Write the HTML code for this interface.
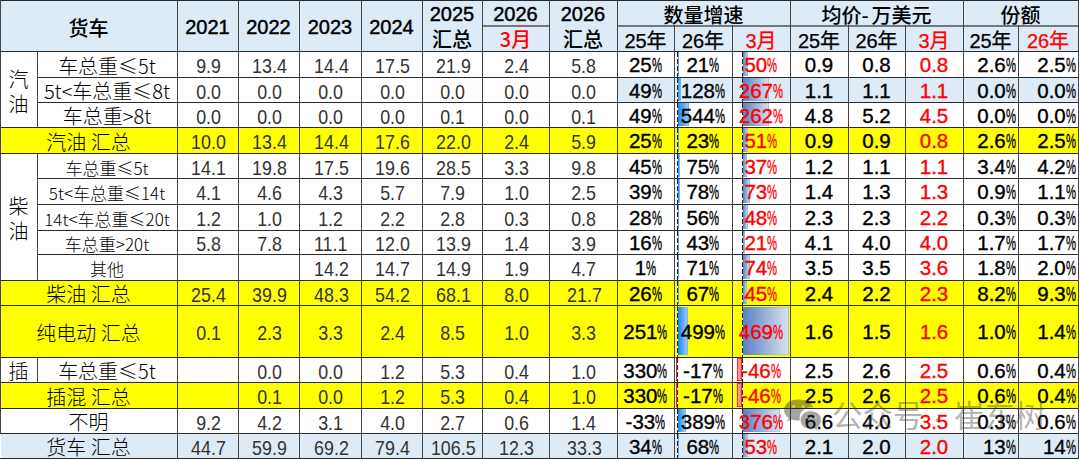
<!DOCTYPE html>
<html><head><meta charset="utf-8"><style>
html,body{margin:0;padding:0;background:#fff;}
#w{position:relative;width:1080px;height:460px;overflow:hidden;background:#fff;}
.r{position:absolute;}
.t{position:absolute;display:flex;align-items:center;justify-content:center;white-space:nowrap;font-family:"Liberation Sans","Noto Sans CJK SC",sans-serif;font-size:20px;color:#000;line-height:1;box-sizing:border-box;padding-top:3px;}
.t span{display:inline-block;}
.t i{font-style:normal;display:inline-block;transform:scaleX(.55);margin:0 -4px;}
.hb{font-weight:normal;-webkit-text-stroke:0.45px currentColor;}
.hm{font-weight:normal;}
.red{color:#FF0000;}
.cat{line-height:1.25;text-align:center;font-family:"Noto Sans CJK SC",sans-serif;font-weight:300;}
.lab{font-family:"Noto Sans CJK SC",sans-serif;font-weight:300;}
.lab2{font-family:"Noto Sans CJK SC",sans-serif;font-size:17px;font-weight:300;}
.hc{font-family:"Noto Sans CJK SC",sans-serif;font-weight:500;}
.sp{display:inline-block;width:3px;}
.h2{padding-top:5px;-webkit-text-stroke:0.25px currentColor;}
.num{color:#333;font-size:21px;padding-left:2px;}
.num span{transform:scaleX(.85);}
.gr,.pr,.sh,.g3{-webkit-text-stroke:0.35px currentColor;font-size:20.5px;}
.sh{justify-content:flex-end;padding-right:2px;}
.bb{background:linear-gradient(to right,#1A88EE,#A6CFF5);box-shadow:inset -1px 0 0 rgba(90,160,230,.45);}
.gb{background:linear-gradient(to right,#5A80C2,#D9E3F2);box-shadow:inset -1px 0 0 rgba(110,145,205,.4),inset 0 1px 0 rgba(110,145,205,.25),inset 0 -1px 0 rgba(110,145,205,.25);}
.nb{background:linear-gradient(to right,#FFB0B0,#FF7070);box-shadow:inset 0 0 0 1px #F03030;}
.ax{width:1px;background:repeating-linear-gradient(to bottom,#222 0 5px,#f4f4f4 5px 7px);}
.wm{position:absolute;left:0;top:0;width:1080px;height:460px;pointer-events:none;}
.wmt{position:absolute;top:399px;font-family:"Noto Sans CJK SC",sans-serif;font-weight:400;font-size:30.5px;line-height:1;color:rgba(60,60,60,.4);white-space:nowrap;}
.wmd{font-size:17px;top:411px;}
</style></head><body><div id="w">
<div class="r" style="left:0px;top:0px;width:1079px;height:51px;background:#DDEBF7;"></div>
<div class="r" style="left:0px;top:280px;width:1079px;height:25px;background:#FFFF00;"></div>
<div class="r" style="left:0px;top:305px;width:1079px;height:52px;background:#FFFF00;"></div>
<div class="r" style="left:0px;top:127px;width:1079px;height:26px;background:#FFFF00;"></div>
<div class="r" style="left:0px;top:382px;width:1079px;height:26px;background:#FFFF00;"></div>
<div class="r" style="left:1px;top:433px;width:1078px;height:25px;background:#DDEBF7;"></div>
<div class="r" style="left:617px;top:77px;width:462px;height:25px;background:#DDEBF7;"></div>
<div class="r bb" style="left:678px;top:52px;width:1px;height:24px"></div>
<div class="r gb" style="left:743px;top:52px;width:5px;height:24px"></div>
<div class="r ax" style="left:677px;top:52px;height:25px"></div>
<div class="r ax" style="left:742px;top:52px;height:25px"></div>
<div class="r bb" style="left:678px;top:78px;width:3px;height:23px"></div>
<div class="r gb" style="left:743px;top:78px;width:26px;height:23px"></div>
<div class="r ax" style="left:677px;top:78px;height:24px"></div>
<div class="r ax" style="left:742px;top:78px;height:24px"></div>
<div class="r bb" style="left:678px;top:103px;width:11px;height:23px"></div>
<div class="r gb" style="left:743px;top:103px;width:26px;height:23px"></div>
<div class="r ax" style="left:677px;top:103px;height:24px"></div>
<div class="r ax" style="left:742px;top:103px;height:24px"></div>
<div class="r bb" style="left:678px;top:128px;width:1px;height:24px"></div>
<div class="r gb" style="left:743px;top:128px;width:5px;height:24px"></div>
<div class="r ax" style="left:677px;top:128px;height:25px"></div>
<div class="r ax" style="left:742px;top:128px;height:25px"></div>
<div class="r bb" style="left:678px;top:154px;width:2px;height:23px"></div>
<div class="r gb" style="left:743px;top:154px;width:4px;height:23px"></div>
<div class="r ax" style="left:677px;top:154px;height:24px"></div>
<div class="r ax" style="left:742px;top:154px;height:24px"></div>
<div class="r bb" style="left:678px;top:179px;width:2px;height:24px"></div>
<div class="r gb" style="left:743px;top:179px;width:7px;height:24px"></div>
<div class="r ax" style="left:677px;top:179px;height:25px"></div>
<div class="r ax" style="left:742px;top:179px;height:25px"></div>
<div class="r bb" style="left:678px;top:205px;width:1px;height:24px"></div>
<div class="r gb" style="left:743px;top:205px;width:5px;height:24px"></div>
<div class="r ax" style="left:677px;top:205px;height:25px"></div>
<div class="r ax" style="left:742px;top:205px;height:25px"></div>
<div class="r bb" style="left:678px;top:231px;width:1px;height:22px"></div>
<div class="r gb" style="left:743px;top:231px;width:2px;height:22px"></div>
<div class="r ax" style="left:677px;top:231px;height:23px"></div>
<div class="r ax" style="left:742px;top:231px;height:23px"></div>
<div class="r bb" style="left:678px;top:255px;width:1px;height:24px"></div>
<div class="r gb" style="left:743px;top:255px;width:7px;height:24px"></div>
<div class="r ax" style="left:677px;top:255px;height:25px"></div>
<div class="r ax" style="left:742px;top:255px;height:25px"></div>
<div class="r bb" style="left:678px;top:281px;width:1px;height:23px"></div>
<div class="r gb" style="left:743px;top:281px;width:4px;height:23px"></div>
<div class="r ax" style="left:677px;top:281px;height:24px"></div>
<div class="r ax" style="left:742px;top:281px;height:24px"></div>
<div class="r bb" style="left:678px;top:307px;width:10px;height:48px"></div>
<div class="r gb" style="left:743px;top:307px;width:46px;height:48px"></div>
<div class="r ax" style="left:677px;top:306px;height:51px"></div>
<div class="r ax" style="left:742px;top:306px;height:51px"></div>
<div class="r nb" style="left:676px;top:358px;width:1px;height:23px"></div>
<div class="r nb" style="left:737px;top:358px;width:5px;height:23px"></div>
<div class="r ax" style="left:677px;top:358px;height:24px"></div>
<div class="r ax" style="left:742px;top:358px;height:24px"></div>
<div class="r nb" style="left:676px;top:383px;width:1px;height:24px"></div>
<div class="r nb" style="left:737px;top:383px;width:5px;height:24px"></div>
<div class="r ax" style="left:677px;top:383px;height:25px"></div>
<div class="r ax" style="left:742px;top:383px;height:25px"></div>
<div class="r bb" style="left:678px;top:409px;width:8px;height:23px"></div>
<div class="r gb" style="left:743px;top:409px;width:37px;height:23px"></div>
<div class="r ax" style="left:677px;top:409px;height:24px"></div>
<div class="r ax" style="left:742px;top:409px;height:24px"></div>
<div class="r bb" style="left:678px;top:434px;width:1px;height:23px"></div>
<div class="r gb" style="left:743px;top:434px;width:5px;height:23px"></div>
<div class="r ax" style="left:677px;top:434px;height:24px"></div>
<div class="r ax" style="left:742px;top:434px;height:24px"></div>
<div class="r" style="left:0px;top:0px;width:1079px;height:1px;background:#2a2a2a"></div>
<div class="r" style="left:482px;top:25px;width:68px;height:1px;background:#737880"></div>
<div class="r" style="left:617px;top:25px;width:462px;height:1px;background:#737880"></div>
<div class="r" style="left:482px;top:26px;width:68px;height:1px;background:#737880"></div>
<div class="r" style="left:617px;top:26px;width:462px;height:1px;background:#737880"></div>
<div class="r" style="left:0px;top:51px;width:1079px;height:1px;background:#2a2a2a"></div>
<div class="r" style="left:37px;top:77px;width:1042px;height:1px;background:#2a2a2a"></div>
<div class="r" style="left:37px;top:102px;width:1042px;height:1px;background:#2a2a2a"></div>
<div class="r" style="left:0px;top:127px;width:1079px;height:1px;background:#2a2a2a"></div>
<div class="r" style="left:0px;top:153px;width:1079px;height:1px;background:#2a2a2a"></div>
<div class="r" style="left:37px;top:178px;width:1042px;height:1px;background:#2a2a2a"></div>
<div class="r" style="left:37px;top:204px;width:1042px;height:1px;background:#2a2a2a"></div>
<div class="r" style="left:37px;top:230px;width:1042px;height:1px;background:#2a2a2a"></div>
<div class="r" style="left:37px;top:254px;width:1042px;height:1px;background:#2a2a2a"></div>
<div class="r" style="left:0px;top:280px;width:1079px;height:1px;background:#2a2a2a"></div>
<div class="r" style="left:0px;top:305px;width:1079px;height:1px;background:#2a2a2a"></div>
<div class="r" style="left:0px;top:357px;width:1079px;height:1px;background:#2a2a2a"></div>
<div class="r" style="left:0px;top:382px;width:1079px;height:1px;background:#2a2a2a"></div>
<div class="r" style="left:0px;top:408px;width:1079px;height:1px;background:#2a2a2a"></div>
<div class="r" style="left:0px;top:433px;width:1079px;height:1px;background:#2a2a2a"></div>
<div class="r" style="left:0px;top:458px;width:1079px;height:1px;background:#2a2a2a"></div>
<div class="r" style="left:0px;top:0px;width:1px;height:434px;background:#454545"></div>
<div class="r" style="left:37px;top:51px;width:1px;height:77px;background:#454545"></div>
<div class="r" style="left:37px;top:153px;width:1px;height:128px;background:#454545"></div>
<div class="r" style="left:37px;top:357px;width:1px;height:26px;background:#454545"></div>
<div class="r" style="left:177px;top:0px;width:1px;height:459px;background:#454545"></div>
<div class="r" style="left:238px;top:0px;width:1px;height:459px;background:#454545"></div>
<div class="r" style="left:299px;top:0px;width:1px;height:459px;background:#454545"></div>
<div class="r" style="left:361px;top:0px;width:1px;height:459px;background:#454545"></div>
<div class="r" style="left:422px;top:0px;width:1px;height:459px;background:#454545"></div>
<div class="r" style="left:482px;top:0px;width:1px;height:459px;background:#454545"></div>
<div class="r" style="left:549px;top:0px;width:1px;height:459px;background:#454545"></div>
<div class="r" style="left:617px;top:0px;width:1px;height:459px;background:#454545"></div>
<div class="r" style="left:674px;top:25px;width:1px;height:434px;background:#454545"></div>
<div class="r" style="left:732px;top:25px;width:1px;height:434px;background:#454545"></div>
<div class="r" style="left:790px;top:0px;width:1px;height:459px;background:#454545"></div>
<div class="r" style="left:848px;top:25px;width:1px;height:434px;background:#454545"></div>
<div class="r" style="left:905px;top:25px;width:1px;height:434px;background:#454545"></div>
<div class="r" style="left:963px;top:0px;width:1px;height:459px;background:#454545"></div>
<div class="r" style="left:1018px;top:25px;width:1px;height:434px;background:#454545"></div>
<div class="r" style="left:1078px;top:0px;width:1px;height:459px;background:#454545"></div>
<div class="t hc" style="left:0px;top:0px;width:177px;height:51px;;padding-top:4px"><span>货车</span></div>
<div class="t hb" style="left:177px;top:0px;width:61px;height:51px;"><span>2021</span></div>
<div class="t hb" style="left:238px;top:0px;width:61px;height:51px;"><span>2022</span></div>
<div class="t hb" style="left:299px;top:0px;width:62px;height:51px;"><span>2023</span></div>
<div class="t hb" style="left:361px;top:0px;width:61px;height:51px;"><span>2024</span></div>
<div class="t hb" style="left:422px;top:0px;width:60px;height:26px;;padding-top:1px"><span>2025</span></div>
<div class="t hc" style="left:422px;top:26px;width:60px;height:25px;;padding-top:1px"><span>汇总</span></div>
<div class="t hb" style="left:482px;top:0px;width:67px;height:26px;;padding-top:1px"><span>2026</span></div>
<div class="t hc red" style="left:482px;top:26px;width:67px;height:25px;;padding-top:1px"><span>3月</span></div>
<div class="t hb" style="left:549px;top:0px;width:68px;height:26px;;padding-top:1px"><span>2026</span></div>
<div class="t hc" style="left:549px;top:26px;width:68px;height:25px;;padding-top:1px"><span>汇总</span></div>
<div class="t hc" style="left:617px;top:0px;width:173px;height:26px;"><span>数量增速</span></div>
<div class="t hc" style="left:790px;top:0px;width:173px;height:26px;"><span>均价-<b class="sp"></b>万美元</span></div>
<div class="t hc" style="left:963px;top:0px;width:115px;height:26px;"><span>份额</span></div>
<div class="t hm h2 " style="left:617px;top:26px;width:57px;height:25px;"><span>25年</span></div>
<div class="t hm h2 " style="left:674px;top:26px;width:58px;height:25px;"><span>26年</span></div>
<div class="t hm h2 red" style="left:732px;top:26px;width:58px;height:25px;"><span>3月</span></div>
<div class="t hm h2 " style="left:790px;top:26px;width:58px;height:25px;"><span>25年</span></div>
<div class="t hm h2 " style="left:848px;top:26px;width:57px;height:25px;"><span>26年</span></div>
<div class="t hm h2 red" style="left:905px;top:26px;width:58px;height:25px;"><span>3月</span></div>
<div class="t hm h2 " style="left:963px;top:26px;width:55px;height:25px;"><span>25年</span></div>
<div class="t hm h2 red" style="left:1018px;top:26px;width:60px;height:25px;"><span>26年</span></div>
<div class="t cat" style="left:0px;top:51px;width:37px;height:76px;"><span>汽<br>油</span></div>
<div class="t cat" style="left:0px;top:153px;width:37px;height:127px;"><span>柴<br>油</span></div>
<div class="t cat" style="left:0px;top:357px;width:37px;height:25px;;padding-top:1px"><span>插</span></div>
<div class="t lab" style="left:37px;top:51px;width:140px;height:26px;"><span>车总重≤5t</span></div>
<div class="t num" style="left:177px;top:51px;width:61px;height:26px;"><span>9.9</span></div>
<div class="t num" style="left:238px;top:51px;width:61px;height:26px;"><span>13.4</span></div>
<div class="t num" style="left:299px;top:51px;width:62px;height:26px;"><span>14.4</span></div>
<div class="t num" style="left:361px;top:51px;width:61px;height:26px;"><span>17.5</span></div>
<div class="t num" style="left:422px;top:51px;width:60px;height:26px;"><span>21.9</span></div>
<div class="t num" style="left:482px;top:51px;width:67px;height:26px;"><span>2.4</span></div>
<div class="t num" style="left:549px;top:51px;width:68px;height:26px;"><span>5.8</span></div>
<div class="t gr" style="left:617px;top:51px;width:57px;height:26px;"><span>25<i>%</i></span></div>
<div class="t gr" style="left:674px;top:51px;width:58px;height:26px;"><span>21<i>%</i></span></div>
<div class="t g3 red" style="left:732px;top:51px;width:58px;height:26px;"><span>50<i>%</i></span></div>
<div class="t pr" style="left:790px;top:51px;width:58px;height:26px;"><span>0.9</span></div>
<div class="t pr" style="left:848px;top:51px;width:57px;height:26px;"><span>0.8</span></div>
<div class="t pr red" style="left:905px;top:51px;width:58px;height:26px;"><span>0.8</span></div>
<div class="t sh" style="left:963px;top:51px;width:55px;height:26px;"><span>2.6<i>%</i></span></div>
<div class="t sh" style="left:1018px;top:51px;width:60px;height:26px;"><span>2.5<i>%</i></span></div>
<div class="t lab" style="left:37px;top:77px;width:140px;height:25px;"><span>5t<车总重≤8t</span></div>
<div class="t num" style="left:177px;top:77px;width:61px;height:25px;"><span>0.0</span></div>
<div class="t num" style="left:238px;top:77px;width:61px;height:25px;"><span>0.0</span></div>
<div class="t num" style="left:299px;top:77px;width:62px;height:25px;"><span>0.0</span></div>
<div class="t num" style="left:361px;top:77px;width:61px;height:25px;"><span>0.0</span></div>
<div class="t num" style="left:422px;top:77px;width:60px;height:25px;"><span>0.0</span></div>
<div class="t num" style="left:482px;top:77px;width:67px;height:25px;"><span>0.0</span></div>
<div class="t num" style="left:549px;top:77px;width:68px;height:25px;"><span>0.0</span></div>
<div class="t gr" style="left:617px;top:77px;width:57px;height:25px;"><span>49<i>%</i></span></div>
<div class="t gr" style="left:674px;top:77px;width:58px;height:25px;"><span>128<i>%</i></span></div>
<div class="t g3 red" style="left:732px;top:77px;width:58px;height:25px;"><span>267<i>%</i></span></div>
<div class="t pr" style="left:790px;top:77px;width:58px;height:25px;"><span>1.1</span></div>
<div class="t pr" style="left:848px;top:77px;width:57px;height:25px;"><span>1.1</span></div>
<div class="t pr red" style="left:905px;top:77px;width:58px;height:25px;"><span>1.1</span></div>
<div class="t sh" style="left:963px;top:77px;width:55px;height:25px;"><span>0.0<i>%</i></span></div>
<div class="t sh" style="left:1018px;top:77px;width:60px;height:25px;"><span>0.0<i>%</i></span></div>
<div class="t lab" style="left:37px;top:102px;width:140px;height:25px;"><span>车总重>8t</span></div>
<div class="t num" style="left:177px;top:102px;width:61px;height:25px;"><span>0.0</span></div>
<div class="t num" style="left:238px;top:102px;width:61px;height:25px;"><span>0.0</span></div>
<div class="t num" style="left:299px;top:102px;width:62px;height:25px;"><span>0.0</span></div>
<div class="t num" style="left:361px;top:102px;width:61px;height:25px;"><span>0.0</span></div>
<div class="t num" style="left:422px;top:102px;width:60px;height:25px;"><span>0.1</span></div>
<div class="t num" style="left:482px;top:102px;width:67px;height:25px;"><span>0.0</span></div>
<div class="t num" style="left:549px;top:102px;width:68px;height:25px;"><span>0.1</span></div>
<div class="t gr" style="left:617px;top:102px;width:57px;height:25px;"><span>49<i>%</i></span></div>
<div class="t gr" style="left:674px;top:102px;width:58px;height:25px;"><span>544<i>%</i></span></div>
<div class="t g3 red" style="left:732px;top:102px;width:58px;height:25px;"><span>262<i>%</i></span></div>
<div class="t pr" style="left:790px;top:102px;width:58px;height:25px;"><span>4.8</span></div>
<div class="t pr" style="left:848px;top:102px;width:57px;height:25px;"><span>5.2</span></div>
<div class="t pr red" style="left:905px;top:102px;width:58px;height:25px;"><span>4.5</span></div>
<div class="t sh" style="left:963px;top:102px;width:55px;height:25px;"><span>0.0<i>%</i></span></div>
<div class="t sh" style="left:1018px;top:102px;width:60px;height:25px;"><span>0.0<i>%</i></span></div>
<div class="t lab" style="left:0px;top:127px;width:177px;height:26px;"><span>汽油 汇总</span></div>
<div class="t num" style="left:177px;top:127px;width:61px;height:26px;"><span>10.0</span></div>
<div class="t num" style="left:238px;top:127px;width:61px;height:26px;"><span>13.4</span></div>
<div class="t num" style="left:299px;top:127px;width:62px;height:26px;"><span>14.4</span></div>
<div class="t num" style="left:361px;top:127px;width:61px;height:26px;"><span>17.6</span></div>
<div class="t num" style="left:422px;top:127px;width:60px;height:26px;"><span>22.0</span></div>
<div class="t num" style="left:482px;top:127px;width:67px;height:26px;"><span>2.4</span></div>
<div class="t num" style="left:549px;top:127px;width:68px;height:26px;"><span>5.9</span></div>
<div class="t gr" style="left:617px;top:127px;width:57px;height:26px;"><span>25<i>%</i></span></div>
<div class="t gr" style="left:674px;top:127px;width:58px;height:26px;"><span>23<i>%</i></span></div>
<div class="t g3 red" style="left:732px;top:127px;width:58px;height:26px;"><span>51<i>%</i></span></div>
<div class="t pr" style="left:790px;top:127px;width:58px;height:26px;"><span>0.9</span></div>
<div class="t pr" style="left:848px;top:127px;width:57px;height:26px;"><span>0.9</span></div>
<div class="t pr red" style="left:905px;top:127px;width:58px;height:26px;"><span>0.8</span></div>
<div class="t sh" style="left:963px;top:127px;width:55px;height:26px;"><span>2.6<i>%</i></span></div>
<div class="t sh" style="left:1018px;top:127px;width:60px;height:26px;"><span>2.5<i>%</i></span></div>
<div class="t lab2" style="left:37px;top:153px;width:140px;height:25px;"><span>车总重≤5t</span></div>
<div class="t num" style="left:177px;top:153px;width:61px;height:25px;"><span>14.1</span></div>
<div class="t num" style="left:238px;top:153px;width:61px;height:25px;"><span>19.8</span></div>
<div class="t num" style="left:299px;top:153px;width:62px;height:25px;"><span>17.5</span></div>
<div class="t num" style="left:361px;top:153px;width:61px;height:25px;"><span>19.6</span></div>
<div class="t num" style="left:422px;top:153px;width:60px;height:25px;"><span>28.5</span></div>
<div class="t num" style="left:482px;top:153px;width:67px;height:25px;"><span>3.3</span></div>
<div class="t num" style="left:549px;top:153px;width:68px;height:25px;"><span>9.8</span></div>
<div class="t gr" style="left:617px;top:153px;width:57px;height:25px;"><span>45<i>%</i></span></div>
<div class="t gr" style="left:674px;top:153px;width:58px;height:25px;"><span>75<i>%</i></span></div>
<div class="t g3 red" style="left:732px;top:153px;width:58px;height:25px;"><span>37<i>%</i></span></div>
<div class="t pr" style="left:790px;top:153px;width:58px;height:25px;"><span>1.2</span></div>
<div class="t pr" style="left:848px;top:153px;width:57px;height:25px;"><span>1.1</span></div>
<div class="t pr red" style="left:905px;top:153px;width:58px;height:25px;"><span>1.1</span></div>
<div class="t sh" style="left:963px;top:153px;width:55px;height:25px;"><span>3.4<i>%</i></span></div>
<div class="t sh" style="left:1018px;top:153px;width:60px;height:25px;"><span>4.2<i>%</i></span></div>
<div class="t lab2" style="left:37px;top:178px;width:140px;height:26px;"><span>5t<车总重≤14t</span></div>
<div class="t num" style="left:177px;top:178px;width:61px;height:26px;"><span>4.1</span></div>
<div class="t num" style="left:238px;top:178px;width:61px;height:26px;"><span>4.6</span></div>
<div class="t num" style="left:299px;top:178px;width:62px;height:26px;"><span>4.3</span></div>
<div class="t num" style="left:361px;top:178px;width:61px;height:26px;"><span>5.7</span></div>
<div class="t num" style="left:422px;top:178px;width:60px;height:26px;"><span>7.9</span></div>
<div class="t num" style="left:482px;top:178px;width:67px;height:26px;"><span>1.0</span></div>
<div class="t num" style="left:549px;top:178px;width:68px;height:26px;"><span>2.5</span></div>
<div class="t gr" style="left:617px;top:178px;width:57px;height:26px;"><span>39<i>%</i></span></div>
<div class="t gr" style="left:674px;top:178px;width:58px;height:26px;"><span>78<i>%</i></span></div>
<div class="t g3 red" style="left:732px;top:178px;width:58px;height:26px;"><span>73<i>%</i></span></div>
<div class="t pr" style="left:790px;top:178px;width:58px;height:26px;"><span>1.4</span></div>
<div class="t pr" style="left:848px;top:178px;width:57px;height:26px;"><span>1.3</span></div>
<div class="t pr red" style="left:905px;top:178px;width:58px;height:26px;"><span>1.3</span></div>
<div class="t sh" style="left:963px;top:178px;width:55px;height:26px;"><span>0.9<i>%</i></span></div>
<div class="t sh" style="left:1018px;top:178px;width:60px;height:26px;"><span>1.1<i>%</i></span></div>
<div class="t lab2" style="left:37px;top:204px;width:140px;height:26px;"><span>14t<车总重≤20t</span></div>
<div class="t num" style="left:177px;top:204px;width:61px;height:26px;"><span>1.2</span></div>
<div class="t num" style="left:238px;top:204px;width:61px;height:26px;"><span>1.0</span></div>
<div class="t num" style="left:299px;top:204px;width:62px;height:26px;"><span>1.2</span></div>
<div class="t num" style="left:361px;top:204px;width:61px;height:26px;"><span>2.2</span></div>
<div class="t num" style="left:422px;top:204px;width:60px;height:26px;"><span>2.8</span></div>
<div class="t num" style="left:482px;top:204px;width:67px;height:26px;"><span>0.3</span></div>
<div class="t num" style="left:549px;top:204px;width:68px;height:26px;"><span>0.8</span></div>
<div class="t gr" style="left:617px;top:204px;width:57px;height:26px;"><span>28<i>%</i></span></div>
<div class="t gr" style="left:674px;top:204px;width:58px;height:26px;"><span>56<i>%</i></span></div>
<div class="t g3 red" style="left:732px;top:204px;width:58px;height:26px;"><span>48<i>%</i></span></div>
<div class="t pr" style="left:790px;top:204px;width:58px;height:26px;"><span>2.3</span></div>
<div class="t pr" style="left:848px;top:204px;width:57px;height:26px;"><span>2.3</span></div>
<div class="t pr red" style="left:905px;top:204px;width:58px;height:26px;"><span>2.2</span></div>
<div class="t sh" style="left:963px;top:204px;width:55px;height:26px;"><span>0.3<i>%</i></span></div>
<div class="t sh" style="left:1018px;top:204px;width:60px;height:26px;"><span>0.3<i>%</i></span></div>
<div class="t lab2" style="left:37px;top:230px;width:140px;height:24px;"><span>车总重>20t</span></div>
<div class="t num" style="left:177px;top:230px;width:61px;height:24px;"><span>5.8</span></div>
<div class="t num" style="left:238px;top:230px;width:61px;height:24px;"><span>7.8</span></div>
<div class="t num" style="left:299px;top:230px;width:62px;height:24px;"><span>11.1</span></div>
<div class="t num" style="left:361px;top:230px;width:61px;height:24px;"><span>12.0</span></div>
<div class="t num" style="left:422px;top:230px;width:60px;height:24px;"><span>13.9</span></div>
<div class="t num" style="left:482px;top:230px;width:67px;height:24px;"><span>1.4</span></div>
<div class="t num" style="left:549px;top:230px;width:68px;height:24px;"><span>3.9</span></div>
<div class="t gr" style="left:617px;top:230px;width:57px;height:24px;"><span>16<i>%</i></span></div>
<div class="t gr" style="left:674px;top:230px;width:58px;height:24px;"><span>43<i>%</i></span></div>
<div class="t g3 red" style="left:732px;top:230px;width:58px;height:24px;"><span>21<i>%</i></span></div>
<div class="t pr" style="left:790px;top:230px;width:58px;height:24px;"><span>4.1</span></div>
<div class="t pr" style="left:848px;top:230px;width:57px;height:24px;"><span>4.0</span></div>
<div class="t pr red" style="left:905px;top:230px;width:58px;height:24px;"><span>4.0</span></div>
<div class="t sh" style="left:963px;top:230px;width:55px;height:24px;"><span>1.7<i>%</i></span></div>
<div class="t sh" style="left:1018px;top:230px;width:60px;height:24px;"><span>1.7<i>%</i></span></div>
<div class="t lab2" style="left:37px;top:254px;width:140px;height:26px;"><span>其他</span></div>
<div class="t num" style="left:299px;top:254px;width:62px;height:26px;"><span>14.2</span></div>
<div class="t num" style="left:361px;top:254px;width:61px;height:26px;"><span>14.7</span></div>
<div class="t num" style="left:422px;top:254px;width:60px;height:26px;"><span>14.9</span></div>
<div class="t num" style="left:482px;top:254px;width:67px;height:26px;"><span>1.9</span></div>
<div class="t num" style="left:549px;top:254px;width:68px;height:26px;"><span>4.7</span></div>
<div class="t gr" style="left:617px;top:254px;width:57px;height:26px;"><span>1<i>%</i></span></div>
<div class="t gr" style="left:674px;top:254px;width:58px;height:26px;"><span>71<i>%</i></span></div>
<div class="t g3 red" style="left:732px;top:254px;width:58px;height:26px;"><span>74<i>%</i></span></div>
<div class="t pr" style="left:790px;top:254px;width:58px;height:26px;"><span>3.5</span></div>
<div class="t pr" style="left:848px;top:254px;width:57px;height:26px;"><span>3.5</span></div>
<div class="t pr red" style="left:905px;top:254px;width:58px;height:26px;"><span>3.6</span></div>
<div class="t sh" style="left:963px;top:254px;width:55px;height:26px;"><span>1.8<i>%</i></span></div>
<div class="t sh" style="left:1018px;top:254px;width:60px;height:26px;"><span>2.0<i>%</i></span></div>
<div class="t lab" style="left:0px;top:280px;width:177px;height:25px;"><span>柴油 汇总</span></div>
<div class="t num" style="left:177px;top:280px;width:61px;height:25px;"><span>25.4</span></div>
<div class="t num" style="left:238px;top:280px;width:61px;height:25px;"><span>39.9</span></div>
<div class="t num" style="left:299px;top:280px;width:62px;height:25px;"><span>48.3</span></div>
<div class="t num" style="left:361px;top:280px;width:61px;height:25px;"><span>54.2</span></div>
<div class="t num" style="left:422px;top:280px;width:60px;height:25px;"><span>68.1</span></div>
<div class="t num" style="left:482px;top:280px;width:67px;height:25px;"><span>8.0</span></div>
<div class="t num" style="left:549px;top:280px;width:68px;height:25px;"><span>21.7</span></div>
<div class="t gr" style="left:617px;top:280px;width:57px;height:25px;"><span>26<i>%</i></span></div>
<div class="t gr" style="left:674px;top:280px;width:58px;height:25px;"><span>67<i>%</i></span></div>
<div class="t g3 red" style="left:732px;top:280px;width:58px;height:25px;"><span>45<i>%</i></span></div>
<div class="t pr" style="left:790px;top:280px;width:58px;height:25px;"><span>2.4</span></div>
<div class="t pr" style="left:848px;top:280px;width:57px;height:25px;"><span>2.2</span></div>
<div class="t pr red" style="left:905px;top:280px;width:58px;height:25px;"><span>2.3</span></div>
<div class="t sh" style="left:963px;top:280px;width:55px;height:25px;"><span>8.2<i>%</i></span></div>
<div class="t sh" style="left:1018px;top:280px;width:60px;height:25px;"><span>9.3<i>%</i></span></div>
<div class="t lab" style="left:0px;top:305px;width:177px;height:52px;"><span>纯电动 汇总</span></div>
<div class="t num" style="left:177px;top:305px;width:61px;height:52px;"><span>0.1</span></div>
<div class="t num" style="left:238px;top:305px;width:61px;height:52px;"><span>2.3</span></div>
<div class="t num" style="left:299px;top:305px;width:62px;height:52px;"><span>3.3</span></div>
<div class="t num" style="left:361px;top:305px;width:61px;height:52px;"><span>2.4</span></div>
<div class="t num" style="left:422px;top:305px;width:60px;height:52px;"><span>8.5</span></div>
<div class="t num" style="left:482px;top:305px;width:67px;height:52px;"><span>1.0</span></div>
<div class="t num" style="left:549px;top:305px;width:68px;height:52px;"><span>3.3</span></div>
<div class="t gr" style="left:617px;top:305px;width:57px;height:52px;"><span>251<i>%</i></span></div>
<div class="t gr" style="left:674px;top:305px;width:58px;height:52px;"><span>499<i>%</i></span></div>
<div class="t g3 red" style="left:732px;top:305px;width:58px;height:52px;"><span>469<i>%</i></span></div>
<div class="t pr" style="left:790px;top:305px;width:58px;height:52px;"><span>1.6</span></div>
<div class="t pr" style="left:848px;top:305px;width:57px;height:52px;"><span>1.5</span></div>
<div class="t pr red" style="left:905px;top:305px;width:58px;height:52px;"><span>1.6</span></div>
<div class="t sh" style="left:963px;top:305px;width:55px;height:52px;"><span>1.0<i>%</i></span></div>
<div class="t sh" style="left:1018px;top:305px;width:60px;height:52px;"><span>1.4<i>%</i></span></div>
<div class="t lab" style="left:37px;top:357px;width:140px;height:25px;"><span>车总重≤5t</span></div>
<div class="t num" style="left:238px;top:357px;width:61px;height:25px;"><span>0.0</span></div>
<div class="t num" style="left:299px;top:357px;width:62px;height:25px;"><span>0.0</span></div>
<div class="t num" style="left:361px;top:357px;width:61px;height:25px;"><span>1.2</span></div>
<div class="t num" style="left:422px;top:357px;width:60px;height:25px;"><span>5.3</span></div>
<div class="t num" style="left:482px;top:357px;width:67px;height:25px;"><span>0.4</span></div>
<div class="t num" style="left:549px;top:357px;width:68px;height:25px;"><span>1.0</span></div>
<div class="t gr" style="left:617px;top:357px;width:57px;height:25px;"><span>330<i>%</i></span></div>
<div class="t gr" style="left:674px;top:357px;width:58px;height:25px;"><span>-17<i>%</i></span></div>
<div class="t g3 red" style="left:732px;top:357px;width:58px;height:25px;"><span>-46<i>%</i></span></div>
<div class="t pr" style="left:790px;top:357px;width:58px;height:25px;"><span>2.5</span></div>
<div class="t pr" style="left:848px;top:357px;width:57px;height:25px;"><span>2.6</span></div>
<div class="t pr red" style="left:905px;top:357px;width:58px;height:25px;"><span>2.5</span></div>
<div class="t sh" style="left:963px;top:357px;width:55px;height:25px;"><span>0.6<i>%</i></span></div>
<div class="t sh" style="left:1018px;top:357px;width:60px;height:25px;"><span>0.4<i>%</i></span></div>
<div class="t lab" style="left:0px;top:382px;width:177px;height:26px;"><span>插混 汇总</span></div>
<div class="t num" style="left:238px;top:382px;width:61px;height:26px;"><span>0.1</span></div>
<div class="t num" style="left:299px;top:382px;width:62px;height:26px;"><span>0.0</span></div>
<div class="t num" style="left:361px;top:382px;width:61px;height:26px;"><span>1.2</span></div>
<div class="t num" style="left:422px;top:382px;width:60px;height:26px;"><span>5.3</span></div>
<div class="t num" style="left:482px;top:382px;width:67px;height:26px;"><span>0.4</span></div>
<div class="t num" style="left:549px;top:382px;width:68px;height:26px;"><span>1.0</span></div>
<div class="t gr" style="left:617px;top:382px;width:57px;height:26px;"><span>330<i>%</i></span></div>
<div class="t gr" style="left:674px;top:382px;width:58px;height:26px;"><span>-17<i>%</i></span></div>
<div class="t g3 red" style="left:732px;top:382px;width:58px;height:26px;"><span>-46<i>%</i></span></div>
<div class="t pr" style="left:790px;top:382px;width:58px;height:26px;"><span>2.5</span></div>
<div class="t pr" style="left:848px;top:382px;width:57px;height:26px;"><span>2.6</span></div>
<div class="t pr red" style="left:905px;top:382px;width:58px;height:26px;"><span>2.5</span></div>
<div class="t sh" style="left:963px;top:382px;width:55px;height:26px;"><span>0.6<i>%</i></span></div>
<div class="t sh" style="left:1018px;top:382px;width:60px;height:26px;"><span>0.4<i>%</i></span></div>
<div class="t lab" style="left:0px;top:408px;width:177px;height:25px;"><span>不明</span></div>
<div class="t num" style="left:177px;top:408px;width:61px;height:25px;"><span>9.2</span></div>
<div class="t num" style="left:238px;top:408px;width:61px;height:25px;"><span>4.2</span></div>
<div class="t num" style="left:299px;top:408px;width:62px;height:25px;"><span>3.1</span></div>
<div class="t num" style="left:361px;top:408px;width:61px;height:25px;"><span>4.0</span></div>
<div class="t num" style="left:422px;top:408px;width:60px;height:25px;"><span>2.7</span></div>
<div class="t num" style="left:482px;top:408px;width:67px;height:25px;"><span>0.6</span></div>
<div class="t num" style="left:549px;top:408px;width:68px;height:25px;"><span>1.4</span></div>
<div class="t gr" style="left:617px;top:408px;width:57px;height:25px;"><span>-33<i>%</i></span></div>
<div class="t gr" style="left:674px;top:408px;width:58px;height:25px;"><span>389<i>%</i></span></div>
<div class="t g3 red" style="left:732px;top:408px;width:58px;height:25px;"><span>376<i>%</i></span></div>
<div class="t pr" style="left:790px;top:408px;width:58px;height:25px;"><span>6.6</span></div>
<div class="t pr" style="left:848px;top:408px;width:57px;height:25px;"><span>4.0</span></div>
<div class="t pr red" style="left:905px;top:408px;width:58px;height:25px;"><span>3.5</span></div>
<div class="t sh" style="left:963px;top:408px;width:55px;height:25px;"><span>0.3<i>%</i></span></div>
<div class="t sh" style="left:1018px;top:408px;width:60px;height:25px;"><span>0.6<i>%</i></span></div>
<div class="t lab" style="left:0px;top:433px;width:177px;height:25px;"><span>货车 汇总</span></div>
<div class="t num" style="left:177px;top:433px;width:61px;height:25px;"><span>44.7</span></div>
<div class="t num" style="left:238px;top:433px;width:61px;height:25px;"><span>59.9</span></div>
<div class="t num" style="left:299px;top:433px;width:62px;height:25px;"><span>69.2</span></div>
<div class="t num" style="left:361px;top:433px;width:61px;height:25px;"><span>79.4</span></div>
<div class="t num" style="left:422px;top:433px;width:60px;height:25px;"><span>106.5</span></div>
<div class="t num" style="left:482px;top:433px;width:67px;height:25px;"><span>12.3</span></div>
<div class="t num" style="left:549px;top:433px;width:68px;height:25px;"><span>33.3</span></div>
<div class="t gr" style="left:617px;top:433px;width:57px;height:25px;"><span>34<i>%</i></span></div>
<div class="t gr" style="left:674px;top:433px;width:58px;height:25px;"><span>68<i>%</i></span></div>
<div class="t g3 red" style="left:732px;top:433px;width:58px;height:25px;"><span>53<i>%</i></span></div>
<div class="t pr" style="left:790px;top:433px;width:58px;height:25px;"><span>2.1</span></div>
<div class="t pr" style="left:848px;top:433px;width:57px;height:25px;"><span>2.0</span></div>
<div class="t pr red" style="left:905px;top:433px;width:58px;height:25px;"><span>2.0</span></div>
<div class="t sh" style="left:963px;top:433px;width:55px;height:25px;"><span>13<i>%</i></span></div>
<div class="t sh" style="left:1018px;top:433px;width:60px;height:25px;"><span>14<i>%</i></span></div>
<div class="wm">
<svg width="1080" height="460" viewBox="0 0 1080 460" style="position:absolute;left:0;top:0">
<g fill="rgba(40,40,40,.42)">
<path d="M797.5 399.5c-7.5 0-13.5 4.7-13.5 10.5 0 3.2 1.8 6 4.6 8l-1.3 3.6 4.3-2.1c1.8.6 3.8.9 5.9.9 1 0 1.9-.1 2.8-.2-.4-1-.6-2-.6-3.1 0-5.4 5-9.8 11.3-9.8.7 0 1.4.1 2 .2-1.3-4.6-6.6-8-13.5-8z"/>
<path d="M810.8 410.8c-5.8 0-10.6 4.1-10.6 9.2s4.8 9.2 10.6 9.2c1.1 0 2.2-.2 3.2-.4l4.2 2.2-1-3.4c2.6-1.7 4.2-4.4 4.2-7.6 0-5.1-4.8-9.2-10.6-9.2z" stroke="rgba(255,255,255,.85)" stroke-width="0.9"/>
</g>
<g fill="rgba(255,255,255,.5)">
<circle cx="793.6" cy="406.6" r="1.5"/><circle cx="803" cy="406.6" r="1.5"/>
<circle cx="807" cy="417.5" r="1.2"/><circle cx="815.5" cy="417.5" r="1.2"/>
</g>
</svg>
<div class="wmt" style="left:832px">公众号</div>
<div class="wmt wmd" style="left:929px">·</div>
<div class="wmt" style="left:954px">崔东树</div>
</div>
</div></body></html>
